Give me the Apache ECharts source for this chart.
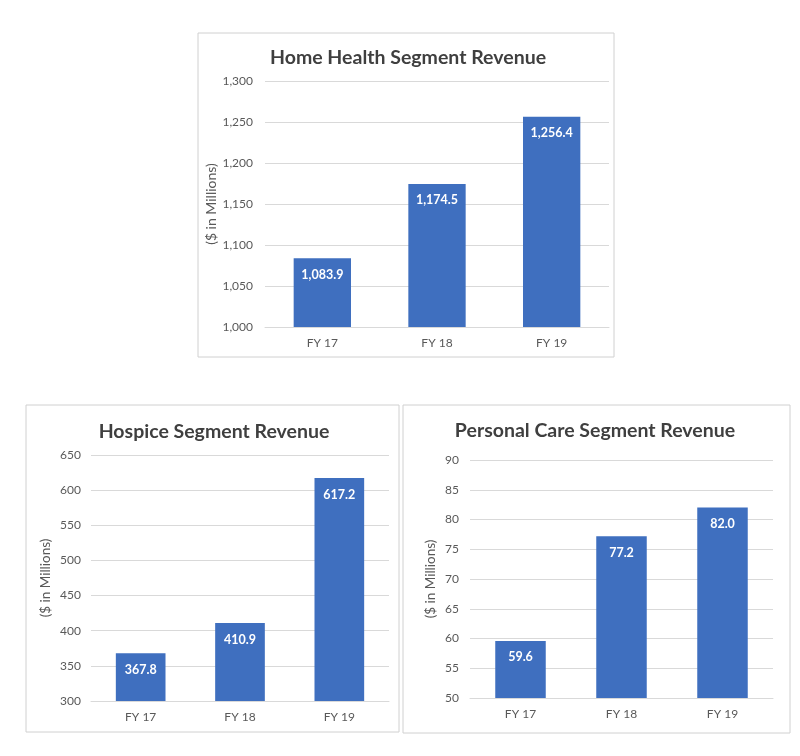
<!DOCTYPE html>
<html><head><meta charset="utf-8">
<script src="https://cdn.jsdelivr.net/npm/echarts@6/dist/echarts.min.js"></script>
<style>html,body{margin:0;padding:0;background:#fff}#c{width:800px;height:756px}</style>
</head><body><div id="c"></div>
<script>
const categories = ['FY 17', 'FY 18', 'FY 19'];
const homeHealth = [1083.9, 1174.5, 1256.4];
const hospice = [367.8, 410.9, 617.2];
const personalCare = [59.6, 77.2, 82.0];
const titles = ['Home Health Segment Revenue', 'Hospice Segment Revenue', 'Personal Care Segment Revenue'];
const yName = '($ in Millions)';
const yRanges = [[1000, 1300, 50], [300, 650, 50], [50, 90, 5]];

const font = 'Lato, "Open Sans", sans-serif';
const boxes = [
  {x: 198, y: 33, w: 416, h: 324},
  {x: 26, y: 405, w: 373, h: 327},
  {x: 403, y: 405, w: 387, h: 328}
];
const grids = [
  {left: 265, top: 81, width: 344, height: 246},
  {left: 91, top: 455, width: 298, height: 246},
  {left: 470, top: 460, width: 303, height: 238}
];
const titlePos = [{x: 403, y: 53}, {x: 209, y: 427}, {x: 590, y: 426}];
const nameGaps = [47, 38, 32];
const nameSizes = [14, 13.5, 13.5];
const labelMargins = [12, 10, 11];
const allData = [homeHealth, hospice, personalCare];

function fmt(v, dec) {
  return v.toLocaleString('en-US', {minimumFractionDigits: dec, maximumFractionDigits: dec});
}

const option = {
  animation: false,
  textStyle: {fontFamily: font},
  title: titles.map((t, i) => ({
    text: t, left: titlePos[i].x, top: titlePos[i].y, textAlign: 'center', textVerticalAlign: 'middle',
    textStyle: {fontSize: 19.5, fontWeight: 'bold', color: '#3f3f3f', fontFamily: font}
  })),
  graphic: boxes.map(b => ({
    type: 'rect', shape: {x: b.x, y: b.y, width: b.w, height: b.h},
    style: {fill: 'none', stroke: '#d0d0d0', lineWidth: 1}, z: -1
  })),
  grid: grids,
  xAxis: grids.map((g, i) => ({
    type: 'category', gridIndex: i, data: categories,
    axisLine: {lineStyle: {color: '#d9d9d9'}}, axisTick: {show: false},
    axisLabel: {color: '#595959', fontSize: 12, margin: 10}
  })),
  yAxis: grids.map((g, i) => ({
    type: 'value', gridIndex: i, min: yRanges[i][0], max: yRanges[i][1], interval: yRanges[i][2],
    name: yName, nameLocation: 'middle', nameRotate: 90, nameGap: nameGaps[i],
    nameTextStyle: {color: '#595959', fontSize: nameSizes[i]},
    axisLine: {show: false}, axisTick: {show: false},
    axisLabel: {color: '#595959', fontSize: 12, margin: labelMargins[i],
      formatter: v => fmt(v, 0)},
    splitLine: {lineStyle: {color: '#d9d9d9'}}
  })),
  series: allData.map((d, i) => ({
    type: 'bar', xAxisIndex: i, yAxisIndex: i, data: d, barWidth: '50%',
    itemStyle: {color: '#3f6fbf'},
    label: {show: true, position: 'insideTop', distance: 10, color: '#fff', fontWeight: 'bold', fontSize: 12.5,
      formatter: p => fmt(p.value, 1)}
  }))
};
const chart = echarts.init(document.getElementById('c'), null, {renderer: 'canvas'});
chart.setOption(option);
</script></body></html>
